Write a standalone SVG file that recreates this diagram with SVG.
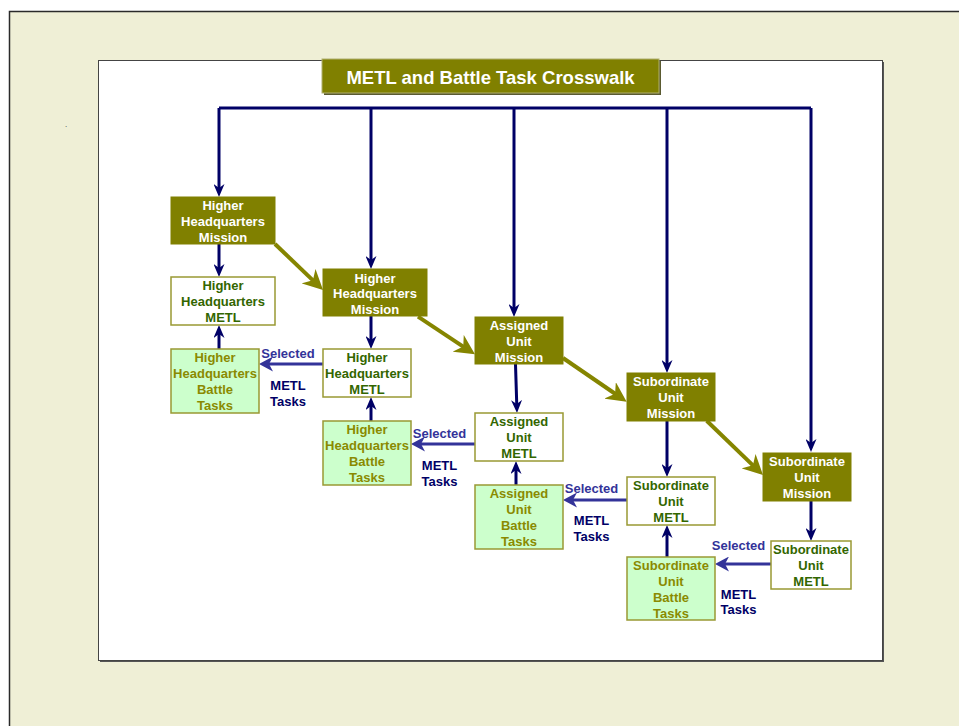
<svg xmlns="http://www.w3.org/2000/svg" width="959" height="726" viewBox="0 0 959 726">
<style>
text{font-family:"Liberation Sans",Arial,sans-serif;font-weight:bold;font-size:13px;text-anchor:middle}
.mis rect{fill:#808000;stroke:#808000;stroke-width:1}
.mis text{fill:#ffffff}
.metl rect{fill:#ffffff;stroke:#999933;stroke-width:1.5}
.metl text{fill:#336600}
.bat rect{fill:#ccffcc;stroke:#999933;stroke-width:1.5}
.bat text{fill:#8a8a00}
.nav{stroke:#000066;stroke-width:3;fill:none}
.navm{stroke:#000066;stroke-width:3;fill:none;marker-end:url(#mNav)}
.olv{stroke:#858500;stroke-width:4;fill:none;marker-end:url(#mOlv)}
.sel{stroke:#333399;stroke-width:3;fill:none;marker-end:url(#mSel)}
.lblS{fill:#333399}
.lblM{fill:#000066}
</style>
<defs>
<marker id="mNav" markerUnits="userSpaceOnUse" markerWidth="13" markerHeight="11" viewBox="0 0 13 11" refX="6.5" refY="5.5" orient="auto"><path d="M0,0 L13,5.5 L0,11 L4,5.5 z" fill="#000066"/></marker>
<marker id="mOlv" markerUnits="userSpaceOnUse" markerWidth="20" markerHeight="20" viewBox="0 0 20 20" refX="10" refY="10" orient="auto"><path d="M0,0 L20,10 L0,20 L6,10 z" fill="#858500"/></marker>
<marker id="mSel" markerUnits="userSpaceOnUse" markerWidth="14" markerHeight="15" viewBox="0 0 14 15" refX="7" refY="7.5" orient="auto"><path d="M0,0 L14,7.5 L0,15 L4,7.5 z" fill="#333399"/></marker>
</defs>
<rect x="0" y="0" width="959" height="726" fill="#ffffff"/>
<rect x="9.5" y="11.5" width="960" height="730" fill="#efefd6" stroke="#2a2a2a" stroke-width="1.5"/>
<text x="66" y="127" style="font-size:8px;font-weight:normal;fill:#333">.</text>
<rect x="100" y="62" width="784" height="600" fill="#555"/>
<rect x="98.5" y="60.5" width="784" height="600" fill="#ffffff" stroke="#444" stroke-width="1"/>
<g id="title">
<rect x="324" y="61" width="337" height="34" fill="#5a5a30"/>
<rect x="322" y="59" width="337" height="34" fill="#808000" stroke="#b0b070" stroke-width="1"/>
<text x="490.5" y="84" style="font-size:18.5px;fill:#ffffff">METL and Battle Task Crosswalk</text>
</g>
<g id="connectors">
<path class="nav" d="M219,108 H811"/>
<path class="navm" d="M219,108 V190.5"/>
<path class="navm" d="M371,108 V262.5"/>
<path class="navm" d="M514,108 V310.5"/>
<path class="navm" d="M667,108 V366.5"/>
<path class="navm" d="M811,108 V445.5"/>
<path class="navm" d="M219,244 V270.5"/>
<path class="navm" d="M219,349 V331.5"/>
<path class="navm" d="M371,316 V342.5"/>
<path class="navm" d="M371,421 V403.5"/>
<path class="navm" d="M515.5,364 L516.8,406.5"/>
<path class="navm" d="M516,485 V467.5"/>
<path class="navm" d="M667,421 V470.5"/>
<path class="navm" d="M667,557 V531.5"/>
<path class="navm" d="M811,501 V534.5"/>
<path class="olv" d="M275,244 L315.8,283.1"/>
<path class="olv" d="M418,316.7 L466.6,348.8"/>
<path class="olv" d="M563,358 L618.4,396"/>
<path class="olv" d="M706.7,420.7 L755.8,468.1"/>
<path class="sel" d="M323,364 H266"/>
<path class="sel" d="M475,444 H418"/>
<path class="sel" d="M627,500 H570"/>
<path class="sel" d="M771,564 H722"/>
<text class="lblS" x="288" y="358">Selected</text>
<text class="lblM" x="288" y="389.5">METL</text>
<text class="lblM" x="288" y="405.5">Tasks</text>
<text class="lblS" x="439.5" y="438">Selected</text>
<text class="lblM" x="439.5" y="470">METL</text>
<text class="lblM" x="439.5" y="485.5">Tasks</text>
<text class="lblS" x="591.5" y="493">Selected</text>
<text class="lblM" x="591.5" y="524.5">METL</text>
<text class="lblM" x="591.5" y="540.5">Tasks</text>
<text class="lblS" x="738.5" y="549.5">Selected</text>
<text class="lblM" x="738.5" y="598.5">METL</text>
<text class="lblM" x="738.5" y="614">Tasks</text>
</g>
<g id="hhq-mission-1" class="mis"><rect x="171" y="197" width="104" height="47"/><text x="223" y="210">Higher</text><text x="223" y="226">Headquarters</text><text x="223" y="242">Mission</text></g>
<g id="hhq-metl-1" class="metl"><rect x="171" y="277" width="104" height="48"/><text x="223" y="290">Higher</text><text x="223" y="306">Headquarters</text><text x="223" y="322">METL</text></g>
<g id="hhq-battle-1" class="bat"><rect x="171" y="349" width="88" height="64"/><text x="215" y="362">Higher</text><text x="215" y="378">Headquarters</text><text x="215" y="394">Battle</text><text x="215" y="410">Tasks</text></g>
<g id="hhq-mission-2" class="mis"><rect x="323" y="269" width="104" height="47"/><text x="375" y="282.5">Higher</text><text x="375" y="298">Headquarters</text><text x="375" y="314">Mission</text></g>
<g id="hhq-metl-2" class="metl"><rect x="323" y="349" width="88" height="48"/><text x="367" y="361.5">Higher</text><text x="367" y="377.5">Headquarters</text><text x="367" y="393.5">METL</text></g>
<g id="hhq-battle-2" class="bat"><rect x="323" y="421" width="88" height="64"/><text x="367" y="434">Higher</text><text x="367" y="450">Headquarters</text><text x="367" y="466">Battle</text><text x="367" y="482">Tasks</text></g>
<g id="assigned-mission" class="mis"><rect x="475" y="317" width="88" height="47"/><text x="519" y="330">Assigned</text><text x="519" y="346">Unit</text><text x="519" y="362">Mission</text></g>
<g id="assigned-metl" class="metl"><rect x="475" y="413" width="88" height="48"/><text x="519" y="426">Assigned</text><text x="519" y="442">Unit</text><text x="519" y="458">METL</text></g>
<g id="assigned-battle" class="bat"><rect x="475" y="485" width="88" height="64"/><text x="519" y="498">Assigned</text><text x="519" y="514">Unit</text><text x="519" y="530">Battle</text><text x="519" y="546">Tasks</text></g>
<g id="sub-mission-1" class="mis"><rect x="627" y="373" width="88" height="48"/><text x="671" y="386">Subordinate</text><text x="671" y="402">Unit</text><text x="671" y="418">Mission</text></g>
<g id="sub-metl-1" class="metl"><rect x="627" y="477" width="88" height="48"/><text x="671" y="490">Subordinate</text><text x="671" y="506">Unit</text><text x="671" y="522">METL</text></g>
<g id="sub-battle" class="bat"><rect x="627" y="557" width="88" height="63"/><text x="671" y="570">Subordinate</text><text x="671" y="586">Unit</text><text x="671" y="602">Battle</text><text x="671" y="618">Tasks</text></g>
<g id="sub-mission-2" class="mis"><rect x="763" y="453" width="88" height="48"/><text x="807" y="466">Subordinate</text><text x="807" y="482">Unit</text><text x="807" y="498">Mission</text></g>
<g id="sub-metl-2" class="metl"><rect x="771" y="541" width="80" height="48"/><text x="811" y="554">Subordinate</text><text x="811" y="570">Unit</text><text x="811" y="585.5">METL</text></g>
</svg>
